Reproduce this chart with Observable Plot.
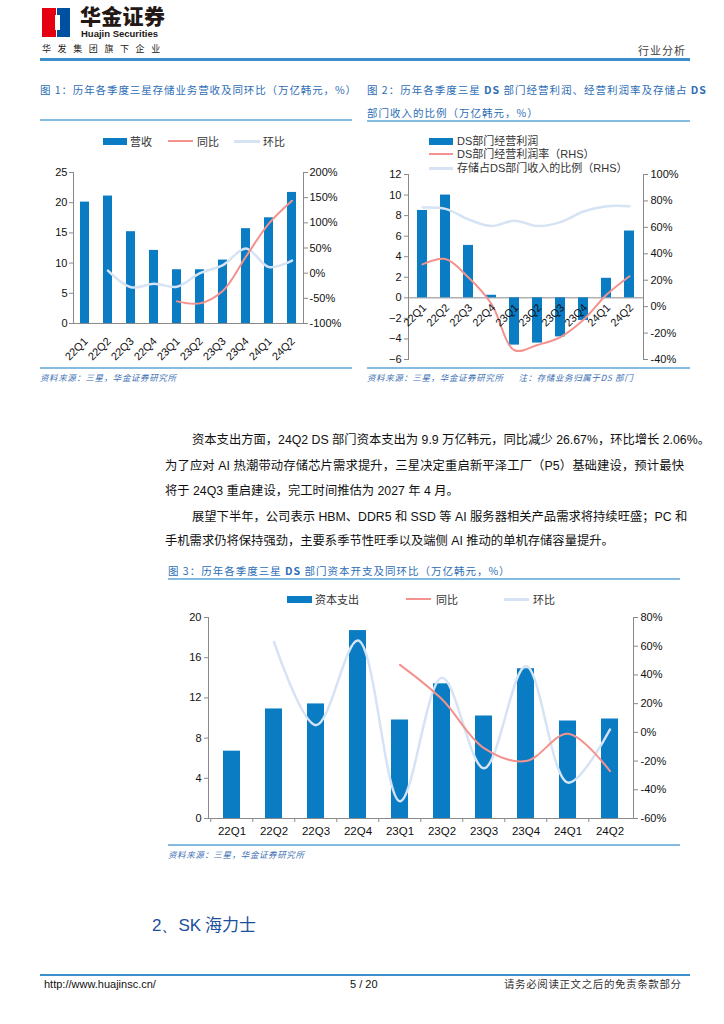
<!DOCTYPE html>
<html><head><meta charset="utf-8">
<script src="https://cdn.jsdelivr.net/npm/d3@7"></script>
<script src="https://cdn.jsdelivr.net/npm/@observablehq/plot@0.6"></script>
<style>
body{margin:0;background:#fff;}
#page{position:relative;width:724px;height:1024px;overflow:hidden;font-family:"Noto Sans CJK SC","Liberation Sans",sans-serif;color:#222;background:#fff;}
.a{position:absolute;white-space:nowrap;}
.title{font-size:10.5px;letter-spacing:0.9px;color:#2d6db5;line-height:14px;}
.rule{position:absolute;height:2px;background:#86bbe2;}
.src{font-size:8.5px;font-style:italic;color:#3d6fb3;letter-spacing:0.6px;line-height:12px;}
.leg{font-size:11px;color:#333;line-height:14px;}
.body{position:absolute;left:165px;width:519px;font-family:'Liberation Sans','Noto Sans CJK SC',sans-serif;font-size:12.3px;line-height:18px;color:#111;text-align:justify;text-align-last:justify;white-space:nowrap;}
.sw{position:absolute;}
</style></head><body><div id="page">

<!-- header -->
<div class="a" style="left:42px;top:8px;width:14px;height:29px;background:#e50012"></div>
<div class="a" style="left:57px;top:8px;width:13px;height:29px;background:#0050a2"></div>
<div class="a" style="left:55px;top:15px;width:5px;height:15px;background:#fff"></div>
<div class="a" style="left:80px;top:2px;font-size:21px;font-weight:900;color:#231815;letter-spacing:0.3px;line-height:26px">华金证券</div>
<div class="a" style="left:81px;top:28px;font-family:'Liberation Sans',sans-serif;font-size:9.5px;font-weight:bold;color:#231815;line-height:11px">Huajin Securities</div>
<div class="a" style="left:42px;top:43px;font-size:9px;letter-spacing:6.6px;color:#231815;line-height:12px">华发集团旗下企业</div>
<div class="a" style="left:638px;top:43px;font-size:11px;letter-spacing:1px;color:#444;line-height:14px">行业分析</div>
<div class="a" style="left:40px;top:58px;width:650px;height:3px;background:#3d8fcc"></div>

<!-- chart titles -->
<div class="a title" style="left:40px;top:83px">图 1：历年各季度三星存储业务营收及同环比（万亿韩元，%）</div>
<div class="rule" style="left:40px;top:119px;width:312px"></div>
<div class="a title" style="left:367px;top:83px;letter-spacing:1px">图 2：历年各季度三星 <b>DS</b> 部门经营利润、经营利润率及存储占 <b>DS</b></div>
<div class="a title" style="left:367px;top:106px;letter-spacing:1px">部门收入的比例（万亿韩元，%）</div>
<div class="rule" style="left:367px;top:120px;width:323px"></div>

<!-- legend 1 -->
<div class="sw" style="left:103px;top:138px;width:24px;height:7px;background:#0a7cc3"></div>
<div class="a leg" style="left:130px;top:134px">营收</div>
<div class="sw" style="left:168px;top:140px;width:25px;height:2px;background:#f4928e"></div>
<div class="a leg" style="left:197px;top:134px">同比</div>
<div class="sw" style="left:234px;top:140px;width:26px;height:2.5px;background:#d6e3f4"></div>
<div class="a leg" style="left:263px;top:134px">环比</div>

<!-- legend 2 -->
<div class="sw" style="left:429px;top:138px;width:24px;height:7px;background:#0a7cc3"></div>
<div class="a leg" style="left:457px;top:134px;font-family:'Liberation Sans','Noto Sans CJK SC'">DS部门经营利润</div>
<div class="sw" style="left:429px;top:153px;width:24px;height:2px;background:#f4928e"></div>
<div class="a leg" style="left:457px;top:147px;font-family:'Liberation Sans','Noto Sans CJK SC'">DS部门经营利润率（RHS）</div>
<div class="sw" style="left:429px;top:167px;width:24px;height:2.5px;background:#d6e3f4"></div>
<div class="a leg" style="left:457px;top:161px;font-family:'Liberation Sans','Noto Sans CJK SC'">存储占DS部门收入的比例（RHS）</div>

<div id="c1" class="a" style="left:30px;top:150px"></div>
<div id="c2" class="a" style="left:360px;top:150px"></div>

<!-- sources -->
<div class="rule" style="left:40px;top:367px;width:312px"></div>
<div class="a src" style="left:40px;top:371px">资料来源：三星，华金证券研究所</div>
<div class="rule" style="left:367px;top:367px;width:323px"></div>
<div class="a src" style="left:367px;top:371px">资料来源：三星，华金证券研究所&nbsp;&nbsp;&nbsp;&nbsp;&nbsp;&nbsp;注：存储业务归属于DS 部门</div>

<!-- body text -->
<div class="body" style="left:192px;width:492px;top:431px">资本支出方面，24Q2 DS 部门资本支出为 9.9 万亿韩元，同比减少 26.67%，环比增长 2.06%。</div>
<div class="body" style="top:457px">为了应对 AI 热潮带动存储芯片需求提升，三星决定重启新平泽工厂（P5）基础建设，预计最快</div>
<div class="body" style="top:482px;text-align-last:left">将于 24Q3 重启建设，完工时间推估为 2027 年 4 月。</div>
<div class="body" style="left:192px;width:492px;top:508px">展望下半年，公司表示 HBM、DDR5 和 SSD 等 AI 服务器相关产品需求将持续旺盛；PC 和</div>
<div class="body" style="top:532px;text-align-last:left">手机需求仍将保持强劲，主要系季节性旺季以及端侧 AI 推动的单机存储容量提升。</div>

<!-- chart 3 -->
<div class="a title" style="left:168px;top:564px;letter-spacing:1px">图 3：历年各季度三星 <b>DS</b> 部门资本开支及同环比（万亿韩元，%）</div>
<div class="rule" style="left:168px;top:578px;width:512px"></div>
<div class="sw" style="left:287px;top:596px;width:25px;height:7px;background:#0a7cc3"></div>
<div class="a leg" style="left:315px;top:592px">资本支出</div>
<div class="sw" style="left:406px;top:598px;width:25px;height:2px;background:#f4928e"></div>
<div class="a leg" style="left:436px;top:592px">同比</div>
<div class="sw" style="left:504px;top:598px;width:25px;height:2.5px;background:#d6e3f4"></div>
<div class="a leg" style="left:533px;top:592px">环比</div>
<div id="c3" class="a" style="left:160px;top:605px"></div>
<div class="rule" style="left:168px;top:844px;width:512px"></div>
<div class="a src" style="left:168px;top:848px">资料来源：三星，华金证券研究所</div>

<div class="a" style="left:152px;top:913px;font-size:17px;color:#1b4f9c;line-height:22px"><span style="font-family:'Liberation Sans'">2、SK</span> 海力士</div>

<!-- footer -->
<div class="a" style="left:40px;top:974px;width:650px;height:2px;background:#3d8fcc"></div>
<div class="a" style="left:44px;top:977px;font-family:'Liberation Sans',sans-serif;font-size:11px;color:#111;line-height:14px">http://www.huajinsc.cn/</div>
<div class="a" style="left:350px;top:977px;font-family:'Liberation Sans',sans-serif;font-size:11px;color:#111;line-height:14px">5 / 20</div>
<div class="a" style="left:504px;top:977px;font-size:10.5px;letter-spacing:0.6px;color:#333;line-height:14px">请务必阅读正文之后的免责条款部分</div>

</div>
<script>
// ---------- data ----------
const quarters = ["22Q1","22Q2","22Q3","22Q4","23Q1","23Q2","23Q3","23Q4","24Q1","24Q2"];

// Figure 1: memory revenue (trillion KRW), YoY %, QoQ %
const memRevenue = [20.1, 21.1, 15.2, 12.1, 8.9, 8.9, 10.5, 15.7, 17.5, 21.7];
const memYoY     = [null, null, null, null, -56, -60, -35, 33, 99, 144];
const memQoQ     = [null, 5, -28, -21, -27, 0, 16, 49, 12, 25];
const ticks1L = [0, 5, 10, 15, 20, 25];
const ticks1R = [-100, -50, 0, 50, 100, 150, 200];

// Figure 2: DS operating profit (trillion KRW), margin %, memory share of DS revenue %
const dsProfit = [8.5, 10.0, 5.1, 0.25, -4.6, -4.4, -3.8, -2.2, 1.9, 6.5];
const dsMargin = [32, 36, 22, 2, -33, -29, -23, -10, 9, 23];
const memShare = [75, 74, 66, 61, 65, 61, 64, 72, 76, 76];
const ticks2L = [-6, -4, -2, 0, 2, 4, 6, 8, 10, 12];
const ticks2R = [-40, -20, 0, 20, 40, 60, 80, 100];

// Figure 3: DS capex (trillion KRW), YoY %, QoQ %
const capex    = [6.7, 10.9, 11.4, 18.7, 9.8, 13.4, 10.2, 14.9, 9.7, 9.9];
const capexYoY = [null, null, null, null, 47, 23, -11, -20, -1, -27];
const capexQoQ = [null, 63, 5, 64, -48, 38, -25, 46, -35, 2];
const ticks3L = [0, 4, 8, 12, 16, 20];
const ticks3R = [-60, -40, -20, 0, 20, 40, 60, 80];

// ---------- helpers ----------
const BAR = "#0a7cc3", PINK = "#f4928e", LIGHT = "#d6e3f4", AXIS = "#8a8a8a";
const series = vals => quarters.map((q, i) => ({q, v: vals[i]})).filter(d => d.v != null);
const mapper = (L, R) => {
  const f = p => L[0] + (p - R[0]) / (R[1] - R[0]) * (L[1] - L[0]);
  f.inv = y => R[0] + (y - L[0]) / (L[1] - L[0]) * (R[1] - R[0]);
  return f;
};
const style = {fontFamily: "'Liberation Sans', Arial, sans-serif", fontSize: "11px", color: "#111", background: "transparent", overflow: "visible"};

// ---------- chart 1 ----------
{
  const L = [0, 25], R = [-100, 200], m = mapper(L, R);
  const p = Plot.plot({
    width: 330, height: 225, marginLeft: 43, marginRight: 57, marginTop: 22, marginBottom: 52,
    style,
    x: {domain: quarters, paddingInner: 0.6, paddingOuter: 0.3, axis: null},
    y: {domain: L, axis: null},
    marks: [
      Plot.barY(series(memRevenue), {x: "q", y: "v", fill: BAR}),
      Plot.line(series(memQoQ), {x: "q", y: d => m(d.v), stroke: LIGHT, strokeWidth: 2.5, curve: "catmull-rom"}),
      Plot.line(series(memYoY), {x: "q", y: d => m(d.v), stroke: PINK, strokeWidth: 2, curve: "catmull-rom"}),
      Plot.ruleY([0], {stroke: AXIS}),
      Plot.frame({anchor: "left", stroke: AXIS}),
      Plot.frame({anchor: "right", stroke: AXIS}),
      Plot.axisY(ticks1L, {anchor: "left", label: null, tickSize: 4, tickPadding: 2, stroke: AXIS, fill: "#111"}),
      Plot.axisY(ticks1R.map(m), {anchor: "right", label: null, tickSize: 4, tickPadding: 2, stroke: AXIS, fill: "#111", tickFormat: d => Math.round(m.inv(d)) + "%"}),
      Plot.axisX({label: null, tickRotate: -45, tickSize: 0, tickPadding: 0, dy: 16, dx: 1, fill: "#111"})
    ]
  });
  document.getElementById("c1").append(p);
}

// ---------- chart 2 ----------
{
  const L = [-6, 12], R = [-40, 100], m = mapper(L, R);
  const p = Plot.plot({
    width: 340, height: 215, marginLeft: 48, marginRight: 57, marginTop: 24, marginBottom: 6,
    style,
    x: {domain: quarters, paddingInner: 0.57, paddingOuter: 0.28, axis: null},
    y: {domain: L, axis: null},
    marks: [
      Plot.ruleY([0], {stroke: AXIS}),
      Plot.barY(series(dsProfit), {x: "q", y: "v", fill: BAR}),
      Plot.line(series(memShare), {x: "q", y: d => m(d.v), stroke: LIGHT, strokeWidth: 2.5, curve: "catmull-rom"}),
      Plot.line(series(dsMargin), {x: "q", y: d => m(d.v), stroke: PINK, strokeWidth: 2, curve: "catmull-rom"}),
      Plot.frame({anchor: "left", stroke: AXIS}),
      Plot.frame({anchor: "right", stroke: AXIS}),
      Plot.axisY(ticks2L, {anchor: "left", label: null, tickSize: 4, tickPadding: 3, stroke: AXIS, fill: "#111"}),
      Plot.axisY(ticks2R.map(m), {anchor: "right", label: null, tickSize: 4, tickPadding: 3, stroke: AXIS, fill: "#111", tickFormat: d => Math.round(m.inv(d)) + "%"}),
      Plot.text(quarters, {x: d => d, y: () => 0, text: d => d, rotate: -45, textAnchor: "end", lineAnchor: "middle", dx: 2, dy: 8, fill: "#111", fontSize: 11})
    ]
  });
  document.getElementById("c2").append(p);
}

// ---------- chart 3 ----------
{
  const L = [0, 20], R = [-60, 80], m = mapper(L, R);
  const W = 520, ml = 48, mr = 47;
  const step = (W - ml - mr) / quarters.length;
  const p = Plot.plot({
    width: W, height: 240, marginLeft: ml, marginRight: mr, marginTop: 12, marginBottom: 27,
    style,
    x: {domain: quarters, paddingInner: 0.6, paddingOuter: 0.3, axis: null},
    y: {domain: L, axis: null},
    marks: [
      Plot.barY(series(capex), {x: "q", y: "v", fill: BAR}),
      Plot.line(series(capexQoQ), {x: "q", y: d => m(d.v), stroke: LIGHT, strokeWidth: 2.5, curve: "catmull-rom"}),
      Plot.line(series(capexYoY), {x: "q", y: d => m(d.v), stroke: PINK, strokeWidth: 2, curve: "catmull-rom"}),
      Plot.ruleY([0], {stroke: AXIS}),
      Plot.frame({anchor: "left", stroke: AXIS}),
      Plot.frame({anchor: "right", stroke: AXIS}),
      Plot.axisY(ticks3L, {anchor: "left", label: null, tickSize: 4, tickPadding: 3, stroke: AXIS, fill: "#111"}),
      Plot.axisY(ticks3R.map(m), {anchor: "right", label: null, tickSize: 4, tickPadding: 3, stroke: AXIS, fill: "#111", tickFormat: d => Math.round(m.inv(d)) + "%"}),
      Plot.axisX({label: null, tickSize: 4, tickFormat: () => "", dx: -step / 2, stroke: AXIS}),
      Plot.axisX({label: null, tickSize: 0, tickPadding: 8, fill: "#111", fontSize: 11.5})
    ]
  });
  document.getElementById("c3").append(p);
}
</script>
</body></html>
